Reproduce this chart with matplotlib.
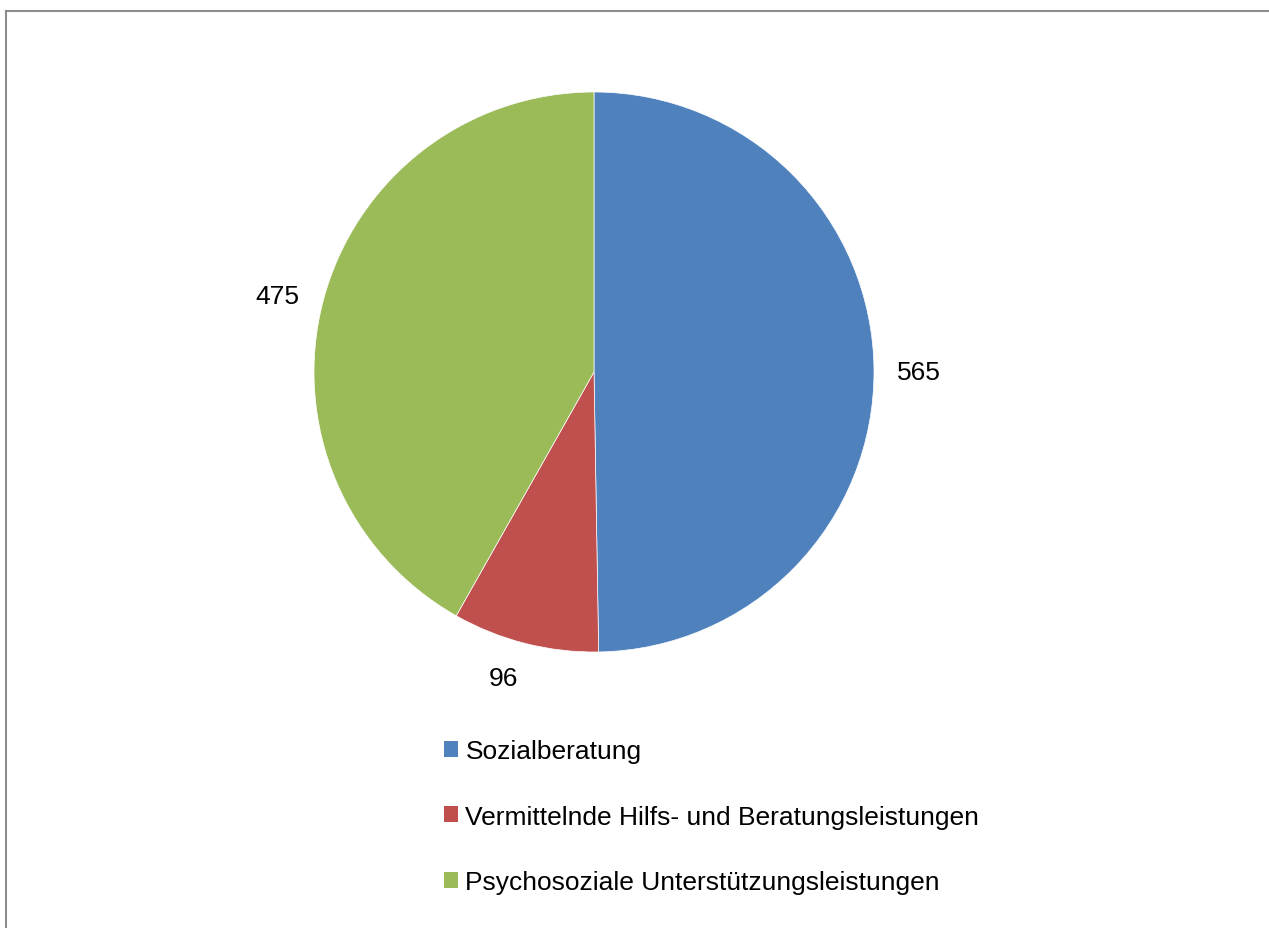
import numpy as np
import matplotlib.pyplot as plt
import matplotlib
from matplotlib.lines import Line2D
from matplotlib.patches import Patch

matplotlib.rc('font', family=['Liberation Sans', 'DejaVu Sans'], size=19)

categories = ['Sozialberatung',
              'Vermittelnde Hilfs- und Beratungsleistungen',
              'Psychosoziale Unterstützungsleistungen']
values = [565, 96, 475]
colors = ['#4F81BD', '#C0504D', '#9BBB59']

# label placement: distance (in radii) and angle nudge (deg) from wedge middle
label_dist = [1.16, 1.13, 1.165]
label_nudge = [-0.1, -2.4, 0.9]

W, H = 1269, 929
fig = plt.figure(figsize=(W / 100, H / 100), dpi=100)

# pie: centre (594, 373) px, radius 280 px
cx, cy, r = 594, 373, 280
ax = fig.add_axes([(cx - r) / W, 1 - (cy + r) / H, 2 * r / W, 2 * r / H])
wedges, _ = ax.pie(values, colors=colors, startangle=90, counterclock=False,
                   wedgeprops=dict(edgecolor='white', linewidth=0.5))
ax.set_xlim(-1, 1)
ax.set_ylim(-1, 1)
ax.set_aspect('auto')

# value labels outside each wedge
for w, v, d, n in zip(wedges, values, label_dist, label_nudge):
    mid = np.deg2rad((w.theta1 + w.theta2) / 2 + n)
    ax.text(d * np.cos(mid), d * np.sin(mid), str(v),
            ha='center', va='center_baseline', fontsize=19)

# legend below the pie
handles = [Patch(facecolor=c, edgecolor='none') for c in colors]
fig.legend(handles, categories, loc='upper left',
           bbox_to_anchor=(444 / W, 1 - 740 / H), frameon=False,
           handlelength=0.54, handleheight=0.54, handletextpad=0.27,
           labelspacing=1.58, fontsize=19, borderaxespad=0, borderpad=0)

# chart border (top and left edges)
fig.add_artist(Line2D([6 / W, 1], [1 - 12 / H, 1 - 12 / H],
                      transform=fig.transFigure, color='#8c8c8c', lw=1.5))
fig.add_artist(Line2D([6 / W, 6 / W], [0, 1 - 12 / H],
                      transform=fig.transFigure, color='#8c8c8c', lw=1.5))

fig.savefig('out.png', dpi=100, facecolor='white')
